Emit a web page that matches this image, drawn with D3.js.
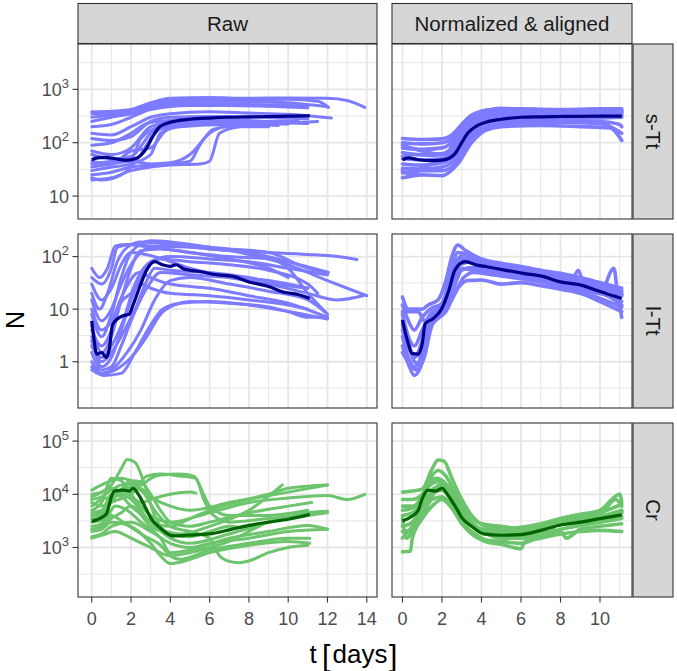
<!DOCTYPE html>
<html><head><meta charset="utf-8">
<script src="https://cdn.jsdelivr.net/npm/d3@7"></script>
<style>body{margin:0;background:#fff}svg{display:block}</style>
</head><body><svg id="c" width="677" height="671"></svg>
<script>
// ---------------- DATA ----------------
const colLabels = ["Raw", "Normalized & aligned"];
const rowLabels = ["s-Tt", "l-Tt", "Cr"];
const xTicksRaw = [0, 2, 4, 6, 8, 10, 12, 14];
const xTicksNorm = [0, 2, 4, 6, 8, 10];
const yTickExps = [[1, 2, 3], [0, 1, 2], [3, 4, 5]];

// s-Tt raw trajectories [t (days), N]
const sTtRaw = [
 [[0,380],[1,390],[2,420],[3,560],[4,680],[6,700],[8,680],[10,690],[12,680],[13,620],[13.9,460]],
 [[0,350],[1,360],[2,400],[3,500],[4,620],[6,650],[8,640],[10,650],[11.5,600],[12.05,460]],
 [[0,300],[1,330],[2,380],[3,470],[4,560],[6,600],[8,590],[10,560],[12,470]],
 [[0,250],[1,300],[2,350],[3,450],[4,520],[6,540],[8,520],[10,500],[11,480]],
 [[0,200],[1,220],[2,300],[3,420],[5,500],[7,500],[9,480],[11,450]],
 [[0,150],[1,140],[2,200],[3,300],[4,350],[6,380],[8,360],[10,340],[12.2,290]],
 [[0,120],[1,110],[2,130],[3,250],[4,300],[6,310],[8,300],[10,290],[11,280]],
 [[0,90],[1,100],[2,150],[2.8,230],[4,260],[6,270],[8,260],[10,240],[11.5,250]],
 [[0,70],[1,60],[2,80],[3,200],[4,240],[6,250],[9,240],[11,230]],
 [[0,40],[1,45],[2,50],[2.5,120],[3.5,200],[5,230],[7,220],[10,225]],
 [[0,30],[1,35],[2,40],[3,60],[3.5,150],[4.5,200],[7,220],[9.5,210]],
 [[0,25],[1,28],[2,35],[3,38],[4,40],[5,45],[5.5,90],[6.2,180],[7,200],[9,200]],
 [[0,20],[1,22],[2,30],[3,35],[4,38],[5.5,40],[6,45],[6.5,150],[7.5,200],[8.5,210]],
 [[0,35],[1,40],[2,45],[3,40],[4,42],[5,60],[6,150],[7,210],[8,220]],
 [[0,22],[0.5,20],[1.5,25],[2.5,60],[3,120],[3.5,180],[5,220],[8,240]],
 [[0,60],[1,50],[2,55],[3,150],[4,250],[5,300],[7,310],[9,300]],
 [[0,45],[1,40],[2,70],[3,80],[3.7,160],[4.3,220],[6,230],[9,250],[10.5,260]]
];
const sTtRawMean = [[0,48],[0.3,52],[0.7,53],[1.2,50],[1.8,47],[2.2,50],[2.5,58],[2.8,80],[3.1,130],[3.4,190],[3.8,230],[4.3,255],[5,275],[6,290],[7,300],[8,305],[9,310],[10,315],[11.1,320]];

const sTtNorm = [
 [[0,120],[1,115],[2,118],[2.5,140],[3,220],[3.5,330],[4.5,420],[6,430],[8,420],[10,430],[11.1,430]],
 [[0,100],[1,95],[2,100],[2.5,120],[3,200],[3.5,300],[4.5,380],[6,400],[8,400],[10,410],[11.1,400]],
 [[0,80],[1,75],[2,80],[2.6,110],[3,170],[3.6,270],[4.5,340],[6,360],[8,370],[10,380],[11.1,370]],
 [[0,65],[1,60],[2,62],[2.5,80],[3,140],[3.5,230],[4.5,310],[6,340],[8,340],[10,350],[11.1,350]],
 [[0,50],[1,48],[2,50],[2.6,70],[3.1,130],[3.6,210],[4.6,280],[6,300],[8,310],[10,320],[11.1,320]],
 [[0,40],[1,38],[2,42],[2.7,60],[3.2,120],[3.8,200],[4.8,260],[6,280],[8,290],[10,290],[11.1,300]],
 [[0,33],[1,32],[2,35],[2.8,55],[3.3,110],[3.9,180],[5,230],[6,250],[8,260],[10,250],[11,220],[11.1,200]],
 [[0,27],[1,30],[2,30],[2.8,45],[3.3,100],[4,170],[5,210],[6,230],[8,240],[10,230],[11.1,150]],
 [[0,22],[1,25],[2,24],[2.8,40],[3.5,100],[4.2,170],[5,200],[7,210],[9,200],[10.5,190],[11.1,110]],
 [[0,30],[0.5,25],[1,35],[2,45],[2.6,100],[3,180],[3.5,280],[4.5,380],[6,380],[8,370],[10,360],[11.1,380]],
 [[0,90],[1,70],[2,60],[2.8,90],[3.3,190],[4,320],[5,400],[6,410],[8,380],[9,360],[10,380],[11.1,410]],
 [[0,55],[0.5,60],[1.5,58],[2.2,60],[2.8,130],[3.3,250],[4,360],[5,440],[6,420],[8,350],[10,330],[11.1,330]]
];
const sTtNormMean = [[0,48],[0.3,52],[0.8,48],[1.5,46],[2,47],[2.4,52],[2.7,65],[3,100],[3.3,150],[3.7,200],[4.2,240],[5,275],[6,300],[7,305],[8,310],[9,312],[10,315],[11.1,315]];

const lTtRaw = [
 [[0,40],[0.5,30],[1,60],[1.3,150],[2,170],[3,160],[5,150],[7,130],[9,120],[11,110],[12.5,100],[13.5,88]],
 [[0,20],[0.4,10],[0.8,20],[1.3,80],[1.8,150],[2.5,190],[4,170],[6,140],[8,120],[10,80],[12.05,50]],
 [[0,8],[0.5,3],[1,8],[1.5,40],[2,120],[3,200],[4,190],[6,150],[8,110],[10,70],[12,35],[14,18]],
 [[0,5],[0.5,1.5],[1,3],[1.5,15],[2,60],[2.5,130],[3.5,140],[5,120],[7,100],[9,90],[10,60],[11,20],[12,8]],
 [[0,3],[0.5,0.8],[1,1.2],[1.5,4],[2,15],[2.8,60],[3.5,90],[5,80],[7,70],[9,55],[11,30],[11.5,20]],
 [[0,1.5],[0.5,0.7],[1,0.8],[1.5,2],[2,6],[2.8,25],[3.5,50],[5,45],[7,40],[9,35],[11,25]],
 [[0,1],[0.5,0.6],[1,0.7],[1.8,1.5],[2.5,4],[3.2,15],[4,35],[5,40],[7,30],[9,22],[11,15],[12,8]],
 [[0,0.8],[0.5,0.6],[1.2,0.7],[2,1.2],[2.8,3],[3.5,8],[4.2,12],[5,14],[7,13],[9,11],[10,9],[11,7],[12,7]],
 [[0,0.7],[0.6,0.55],[1.5,0.6],[2.2,1.5],[3,5],[3.6,10],[4.5,13],[6,14],[8,12],[10,9],[12,6.5]],
 [[0,2],[0.5,1.2],[1,2],[1.6,6],[2.2,30],[3,80],[4,100],[6,90],[8,80],[10,60],[12,45]],
 [[0,15],[0.5,6],[1,10],[1.5,30],[2.2,90],[3,150],[4.5,160],[7,140],[9,120],[11,60],[12,50]],
 [[0,60],[0.4,40],[0.8,60],[1.2,160],[1.8,170],[3,150],[5,120],[7,90],[9,60],[10,40]],
 [[0,30],[0.5,15],[1,25],[1.5,70],[2,120],[3.2,100],[5,60],[7,40],[9,30],[11,20],[12.5,15],[13.8,18]],
 [[0,4],[0.5,2],[1,4],[1.4,12],[2,20],[2.5,30],[3,25],[4,20],[6,18],[8,15],[10,12],[11,10]],
 [[0,10],[0.5,4],[1,6],[1.6,20],[2.4,50],[3,40],[4,30],[6,25],[8,18],[10,13],[12,7]],
 [[0,2.5],[0.5,1],[1,1.5],[1.8,5],[2.3,12],[2.8,35],[3.2,60],[4,55],[6,50],[8,40],[10,28],[11,25]]
];
const lTtRawMean = [[0,6],[0.1,3],[0.25,1.4],[0.5,1.5],[0.75,1.2],[0.9,1.8],[1.05,5],[1.3,6.5],[1.6,7.5],[1.9,8],[2.1,12],[2.45,27],[2.8,56],[3.2,80],[3.6,70],[4,65],[4.3,70],[4.7,58],[5.5,52],[6.4,45],[7.2,42],[8,33],[9,27],[9.8,21],[10.5,19],[11.1,16]];

const lTtNorm = [
 [[0,17],[0.3,10],[0.6,10],[1,10],[1.3,12],[1.8,15],[2.2,35],[2.5,100],[2.8,166],[3.2,130],[4,90],[5,75],[6,65],[7,55],[8,48],[9,40],[10,32],[11.1,25]],
 [[0,12],[0.3,6],[0.6,4],[1,7],[1.4,10],[2,13],[2.4,40],[2.8,120],[3.3,110],[4,85],[5,70],[6,60],[7,52],[8,44],[9,36],[10,30],[11.1,22]],
 [[0,8],[0.3,3],[0.6,2],[1,4],[1.4,8],[2,12],[2.4,30],[2.8,90],[3.3,95],[4,75],[5,65],[6,55],[7,48],[8,40],[9,33],[10,26],[11.1,18]],
 [[0,5],[0.3,2],[0.6,1.2],[1,2.5],[1.3,6],[1.9,10],[2.4,25],[2.9,70],[3.5,80],[4.5,60],[5.2,70],[5.5,52],[6.5,45],[7.5,38],[8.5,30],[8.9,55],[9.2,28],[10,22],[11.1,14]],
 [[0,3],[0.3,1.2],[0.6,0.8],[1,1.5],[1.3,5],[2,9],[2.5,20],[3,55],[3.5,62],[4.5,55],[6,45],[7,40],[8,32],[9,27],[10,20],[10.7,60],[10.9,18],[11.1,7]],
 [[0,2],[0.3,0.9],[0.6,0.55],[1,1],[1.3,4],[2,8],[2.6,18],[3.1,40],[3.6,50],[4.5,45],[6,38],[7,33],[8,27],[9,22],[10,16],[11.1,11]],
 [[0,1.5],[0.3,1],[0.7,0.7],[1.1,1.2],[1.5,5],[2.2,9],[2.8,25],[3.3,35],[4,36],[5,30],[6,32],[7,28],[8,24],[9,20],[10,14],[11.1,9]],
 [[0,9],[0.3,9],[0.8,9],[1.1,6],[1.5,8],[2,11],[2.3,20],[2.7,70],[3.1,110],[4,80],[5,62],[6,55],[7,46],[8,38],[9,30],[10,27],[11.1,20]],
 [[0,6],[0.3,2.5],[0.6,1],[0.9,0.9],[1.2,3],[1.6,7],[2.1,13],[2.5,45],[3,90],[4,70],[5,58],[6,50],[7,44],[8,36],[9,30],[10,25],[11.1,19]],
 [[0,4],[0.4,1.6],[0.8,1.3],[1,2.2],[1.4,7],[2,11],[2.5,30],[3,60],[3.5,55],[4.5,50],[5.5,42],[6.5,38],[7.5,34],[8.5,27],[9.5,22],[10.5,17],[11.1,12]]
];
const lTtNormMean = [[0,6.2],[0.15,3.5],[0.3,2.2],[0.47,1.44],[0.8,1.4],[1.0,2.2],[1.15,5.3],[1.57,6.7],[2.0,10.4],[2.33,21.6],[2.66,56],[3.17,80],[3.76,69],[4.27,64],[5.1,56],[6.1,48],[7.1,42],[8,33],[9,29],[10,21.6],[11.1,16]];

const crRaw = [
 [[0,10000],[0.5,11000],[1,15000],[1.5,30000],[1.8,45000],[2.2,40000],[2.7,15000],[3.2,4000],[3.8,2000],[4.5,1800],[6,2500],[8,5000],[9.7,15000]],
 [[0,12000],[0.5,15000],[1,18000],[1.5,20000],[2,18000],[2.5,15000],[3,20000],[3.5,23000],[4.5,24000],[5.2,22000],[5.6,12000],[6,6000],[7,4000],[9,4000],[11,5000]],
 [[0,8000],[0.5,9000],[1,12000],[1.5,15000],[2,16000],[2.5,13000],[3,9000],[4,6000],[5,5000],[7,7000],[9,10000],[10,13000],[12,15000]],
 [[0,5000],[0.5,7000],[1,20000],[1.5,18000],[2,10000],[2.5,6000],[3,4000],[4,3000],[6,4500],[8,7000],[10,8500],[12,9500],[13,8000],[13.9,10000]],
 [[0,4000],[0.5,4500],[1,10000],[1.5,9000],[2,6000],[3,3000],[4,1500],[5,1200],[7,1800],[9,3000],[11,4500],[12,4800]],
 [[0,3000],[0.7,3500],[1.2,6000],[1.8,5000],[2.5,3000],[3.5,1500],[4,800],[5,900],[7,1500],[9,2000],[11,2600],[12,2200]],
 [[0,2500],[0.5,2800],[1,4000],[1.6,3000],[2.5,1800],[3.5,1100],[4,700],[4.5,600],[6,900],[8,1200],[10,1500],[11.1,1500]],
 [[0,2000],[0.5,2200],[1,3000],[2,2500],[3,1200],[3.5,700],[4,500],[5,600],[6,800],[8,1100],[10,1300],[11.1,1200]],
 [[0,1600],[0.5,1800],[1,2500],[2,3000],[3,2000],[4,1200],[5,1000],[6,1200],[8,1500],[10,2000],[12,2200]],
 [[0,6000],[0.5,8000],[1,9000],[1.5,12000],[2,14000],[2.6,11000],[3.2,5000],[4,2500],[5,2000],[6,1500],[6.5,700],[7,550],[7.5,520],[8,560],[9,800],[10,1000],[11,1100]],
 [[0,3500],[0.5,4000],[1,8000],[1.5,10000],[2,8000],[2.5,5000],[3,3000],[4,2500],[5,3500],[6,5000],[8,8000],[10,11000],[12,15000]],
 [[0,7000],[0.5,6000],[1.2,9000],[2,18000],[2.5,17000],[3,10000],[3.5,5000],[4,3000],[5,2500],[6,3000],[8,4500],[10,6000],[11.2,7000]],
 [[0,4500],[0.5,5000],[1,7000],[2,10000],[2.8,22000],[3.5,24000],[4.5,22000],[5.3,20000],[5.7,8000],[6.2,4000],[7,3000],[9,3500],[11,4000]],
 [[0,2200],[0.5,2500],[1,3500],[1.5,4500],[2,6000],[3,2500],[4,1800],[5,1600],[6,2000],[7,2500],[8,2200]],
 [[0,9000],[0.3,10000],[1,13000],[1.5,11000],[2,9000],[2.5,7000],[3,8000],[4,10000],[5,11000],[5.3,10500]],
 [[0,1500],[0.5,1700],[1.2,2000],[2,1500],[3,1000],[4,700],[5,800],[6,1000],[7,1300],[8,2000],[9,3000],[11,4000],[12,4500]]
];
const crRawMean = [[0,3100],[0.4,3500],[0.75,4300],[0.9,6500],[1.0,9000],[1.15,11500],[1.6,12000],[1.9,11500],[2.1,13000],[2.3,11000],[2.5,8300],[2.75,5500],[3,3600],[3.5,2300],[4.15,1650],[4.8,1700],[6,1800],[7,2150],[8,2600],[9,3000],[10,3400],[11.1,4200]];

const crNorm = [
 [[0,11000],[0.5,11500],[1,12500],[1.5,30000],[1.8,44000],[2.1,42000],[2.5,20000],[3,8000],[3.5,4000],[4.2,2500],[5,2300],[6,2400],[7,2800],[8,3500],[9,4200],[10,5000],[11,10000],[11.1,7000]],
 [[0,8000],[0.5,8000],[1,10000],[1.4,20000],[1.8,28000],[2.2,22000],[2.7,10000],[3.2,5000],[4,2800],[5,2500],[6,2300],[7,2700],[8,3000],[9,3800],[10,4500],[11.1,6500]],
 [[0,5000],[0.5,5500],[1,9000],[1.4,15000],[2,18000],[2.4,12000],[2.8,7000],[3.3,3500],[4,2200],[5,2000],[6,2000],[7,2400],[8,2900],[9,3300],[10,3800],[11.1,5000]],
 [[0,2500],[0.5,3000],[1,6000],[1.4,10000],[2,12000],[2.5,8000],[3,4000],[3.5,2600],[4.2,1800],[5,1700],[6,1600],[7,1900],[7.6,2000],[7.7,3200],[8,2800],[9,2800],[10,3200],[11.1,3800]],
 [[0,1500],[0.5,2500],[1,4500],[1.5,8000],[2,9000],[2.5,6000],[3,3000],[3.5,2000],[4.2,1400],[5,1300],[6,1200],[7,1600],[8,2000],[8.3,1500],[9,2200],[10,2500],[11.1,2800]],
 [[0,830],[0.4,850],[0.5,1500],[1,3500],[1.5,6000],[2,8000],[2.5,5500],[3,2800],[3.5,1800],[4.2,1300],[5,1150],[6,950],[6.2,1300],[7,1500],[8,1800],[9,2000],[10,2100],[11.1,2000]],
 [[0,6000],[0.3,6000],[0.8,6000],[1.2,8000],[1.6,13000],[2.1,14000],[2.6,8000],[3,4500],[3.6,2500],[4.4,1900],[5,1800],[6,1900],[7,2200],[8,2700],[9,3200],[10,3800],[11.1,4800]],
 [[0,2000],[0.5,2200],[1,4000],[1.5,9000],[1.9,15000],[2.3,11000],[2.8,5000],[3.3,3000],[4,2000],[5,1500],[6,1500],[7,1800],[8,2200],[9,2600],[10,3000],[11.1,3500]],
 [[0,3500],[0.2,1500],[0.5,2000],[1,5000],[1.5,11000],[2,16000],[2.4,13000],[2.8,6500],[3.3,3200],[4,2200],[5,2100],[6,2200],[7,2500],[8,3000],[9,3500],[10,4200],[10.8,8000],[11.1,6000]],
 [[0,4000],[0.5,4500],[1,7000],[1.3,14000],[1.7,20000],[2.1,17000],[2.6,9000],[3,5000],[3.5,3000],[4.2,2000],[5,1900],[6,2000],[7,2300],[8,2700],[9,3100],[10,3600],[11.1,4500]]
];
const crNormMean = [[0,3150],[0.5,3900],[0.8,5000],[1.0,8300],[1.3,12000],[1.7,11500],[2.0,13000],[2.3,9600],[2.7,5700],[3.0,3650],[3.5,2500],[4.1,1800],[5,1700],[6,1750],[7,2100],[8,2650],[9,3000],[10,3500],[11.1,4100]];

// ---------------- LAYOUT / STYLE ----------------
const font = '"Liberation Sans", Arial, Helvetica, sans-serif';
const colX = [[78, 377], [392, 632]];
const rowY = [[44, 219], [234, 408], [423, 597]];
const xDomains = [[-0.70, 14.52], [-0.53, 11.62]];
const yDomainsLog = [[0.57, 3.85], [-0.88, 2.43], [2.07, 5.34]];
const lightCol = ["#7D7BFF", "#7D7BFF", "#6CC46C"];
const darkCol = ["#00008B", "#00008B", "#006400"];
const gridCol = "#E6E6E6", borderCol = "#333333", tickTextCol = "#4D4D4D";

const data = [
  [[sTtRaw, sTtRawMean], [sTtNorm, sTtNormMean]],
  [[lTtRaw, lTtRawMean], [lTtNorm, lTtNormMean]],
  [[crRaw, crRawMean], [crNorm, crNormMean]]
];

const svg = d3.select("#c");
svg.append("rect").attr("width", 677).attr("height", 671).attr("fill", "#fff");
const defs = svg.append("defs");

for (let r = 0; r < 3; r++) {
  for (let c = 0; c < 2; c++) {
    const [x0, x1] = colX[c], [y0, y1] = rowY[r];
    const x = d3.scaleLinear().domain(xDomains[c]).range([x0, x1]);
    const y = d3.scaleLog().domain(yDomainsLog[r].map(e => Math.pow(10, e))).range([y1, y0]);
    const id = `clip${r}${c}`;
    defs.append("clipPath").attr("id", id).append("rect")
      .attr("x", x0).attr("y", y0).attr("width", x1 - x0).attr("height", y1 - y0);
    const g = svg.append("g");
    const gg = g.append("g").attr("clip-path", `url(#${id})`);
    // grid
    const xt = c === 0 ? xTicksRaw : xTicksNorm;
    const step = xt[1] - xt[0];
    const xMinor = [];
    for (let i = 0; i <= xt.length; i++) {
      const v = xt[0] + step * (i - 0.5);
      if (v > xDomains[c][0] && v < xDomains[c][1]) xMinor.push(v);
    }
    const exps = yTickExps[r];
    const yMinor = [];
    for (let e = Math.floor(yDomainsLog[r][0]) - 1; e <= Math.ceil(yDomainsLog[r][1]); e++) {
      const v = e + 0.5;
      if (v > yDomainsLog[r][0] && v < yDomainsLog[r][1]) yMinor.push(Math.pow(10, v));
    }
    gg.selectAll(".xmin").data(xMinor).join("line")
      .attr("x1", d => x(d)).attr("x2", d => x(d)).attr("y1", y0).attr("y2", y1)
      .attr("stroke", gridCol).attr("stroke-width", 1.0);
    gg.selectAll(".ymin").data(yMinor).join("line")
      .attr("x1", x0).attr("x2", x1).attr("y1", d => y(d)).attr("y2", d => y(d))
      .attr("stroke", gridCol).attr("stroke-width", 1.0);
    gg.selectAll(".xmaj").data(xt).join("line")
      .attr("x1", d => x(d)).attr("x2", d => x(d)).attr("y1", y0).attr("y2", y1)
      .attr("stroke", gridCol).attr("stroke-width", 1.8);
    gg.selectAll(".ymaj").data(exps).join("line")
      .attr("x1", x0).attr("x2", x1).attr("y1", d => y(Math.pow(10, d))).attr("y2", d => y(Math.pow(10, d)))
      .attr("stroke", gridCol).attr("stroke-width", 1.8);

    const line = d3.line().x(d => x(d[0])).y(d => y(d[1])).curve(d3.curveMonotoneX);
    const [curves, mean] = data[r][c];
    gg.selectAll(".traj").data(curves).join("path")
      .attr("d", line).attr("fill", "none").attr("stroke", lightCol[r])
      .attr("stroke-width", c === 0 ? 3.0 : 3.6).attr("stroke-linejoin", "round").attr("stroke-linecap", "round");
    gg.append("path").datum(mean).attr("d", line).attr("fill", "none")
      .attr("stroke", darkCol[r]).attr("stroke-width", 3.2).attr("stroke-linejoin", "round");

    // border
    g.append("rect").attr("x", x0).attr("y", y0).attr("width", x1 - x0).attr("height", y1 - y0)
      .attr("fill", "none").attr("stroke", borderCol).attr("stroke-width", 1.1);

    // y axis (left column only)
    if (c === 0) {
      exps.forEach(e => {
        const yy = y(Math.pow(10, e));
        g.append("line").attr("x1", x0 - 5.5).attr("x2", x0).attr("y1", yy).attr("y2", yy)
          .attr("stroke", borderCol).attr("stroke-width", 1.1);
        const t = g.append("text").attr("x", x0 - 9).attr("y", yy + 6.5)
          .attr("text-anchor", "end").attr("font-family", font).attr("font-size", 18)
          .attr("fill", tickTextCol);
        if (e === 0) t.text("1");
        else if (e === 1) t.text("10");
        else {
          t.append("tspan").text("10");
          t.append("tspan").attr("dy", -8).attr("font-size", 13).text(e);
        }
      });
    }
    // x axis (bottom row only)
    if (r === 2) {
      xt.forEach(v => {
        const xx = x(v);
        g.append("line").attr("x1", xx).attr("x2", xx).attr("y1", y1).attr("y2", y1 + 5.5)
          .attr("stroke", borderCol).attr("stroke-width", 1.1);
        g.append("text").attr("x", xx).attr("y", y1 + 28).attr("text-anchor", "middle")
          .attr("font-family", font).attr("font-size", 18).attr("fill", tickTextCol).text(v);
      });
    }
  }
}

// column strips
colLabels.forEach((lab, c) => {
  const [x0, x1] = colX[c];
  svg.append("rect").attr("x", x0).attr("y", 3.5).attr("width", x1 - x0).attr("height", 40)
    .attr("fill", "#D6D6D6").attr("stroke", borderCol).attr("stroke-width", 1.1);
  svg.append("text").attr("x", (x0 + x1) / 2).attr("y", 30.5).attr("text-anchor", "middle")
    .attr("font-family", font).attr("font-size", 20.5).attr("fill", "#1A1A1A").text(lab);
});
// row strips
rowLabels.forEach((lab, r) => {
  const [y0, y1] = rowY[r];
  svg.append("rect").attr("x", 633).attr("y", y0).attr("width", 40).attr("height", y1 - y0)
    .attr("fill", "#D6D6D6").attr("stroke", borderCol).attr("stroke-width", 1.1);
  const cx = 653, cy = (y0 + y1) / 2;
  svg.append("text").attr("transform", `translate(${cx},${cy}) rotate(90)`)
    .attr("x", 0).attr("y", 7).attr("text-anchor", "middle")
    .attr("font-family", font).attr("font-size", 20.5).attr("fill", "#1A1A1A").text(lab);
});

// axis titles
svg.append("text").attr("transform", "translate(23.5,320) rotate(-90)")
  .attr("text-anchor", "middle").attr("font-family", font).attr("font-size", 25)
  .attr("fill", "#000").text("N");
const xt = svg.append("g").attr("font-family", font).attr("fill", "#000");
xt.append("text").attr("x", 313).attr("y", 663).attr("text-anchor", "middle").attr("font-size", 26).text("t");
xt.append("text").attr("x", 322).attr("y", 666).attr("font-size", 30).attr("font-weight", 300).text("[");
xt.append("text").attr("x", 332.5).attr("y", 663).attr("font-size", 26).text("days");
xt.append("text").attr("x", 389).attr("y", 666).attr("font-size", 30).attr("font-weight", 300).text("]");
</script></body></html>
